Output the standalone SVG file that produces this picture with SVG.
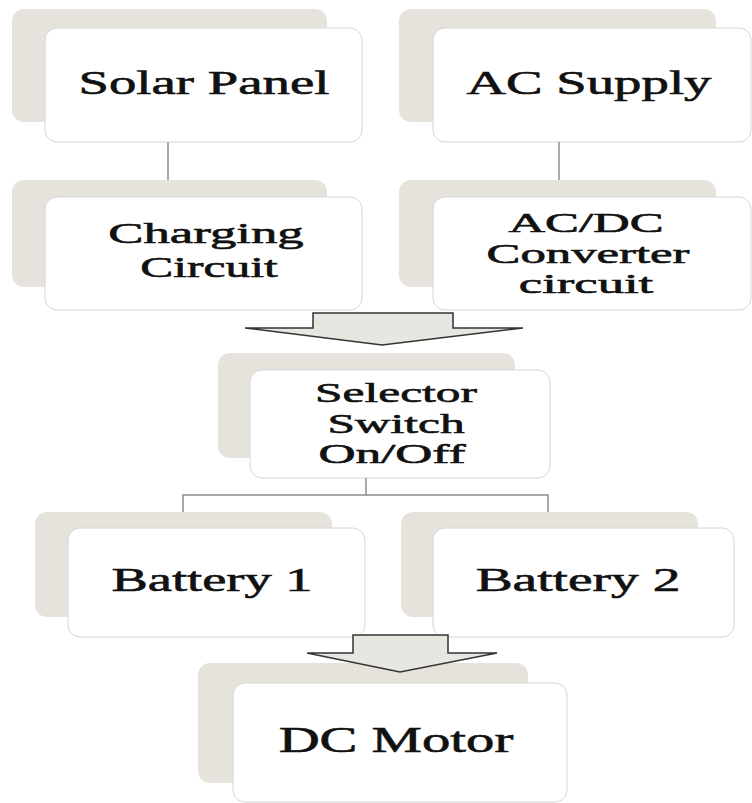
<svg xmlns="http://www.w3.org/2000/svg" width="752" height="803" viewBox="0 0 752 803">
<style>
.back{fill:#e6e3dc;stroke:none}
.front{fill:#ffffff;stroke:#d6d6d6;stroke-width:1}
.t{font-family:"Liberation Serif","Times New Roman",serif;fill:#111;stroke:#111;stroke-width:0.6;text-anchor:middle;font-size:33px}
.tc{font-family:"Liberation Serif","Times New Roman",serif;fill:#111;stroke:#111;stroke-width:0.6;text-anchor:middle;font-size:30px}
.tm{font-family:"Liberation Serif","Times New Roman",serif;fill:#111;stroke:#111;stroke-width:0.6;text-anchor:middle;font-size:27px}
.ln{stroke:#8c8c8c;stroke-width:1.5;fill:none}
.arr{fill:#e8e6e0;stroke:#333;stroke-width:1.5;stroke-linejoin:miter}
</style>
<rect width="752" height="803" fill="#ffffff"/>
<g id="solar-panel">
<rect class="back" x="12" y="9" width="315" height="113" rx="12"/>
<rect class="front" x="45" y="28" width="317" height="114" rx="12"/>
<g transform="translate(204,94) scale(1.66,1)"><text class="t" x="0" y="0">Solar Panel</text></g>
</g>
<g id="ac-supply">
<rect class="back" x="399" y="9" width="317" height="113" rx="12"/>
<rect class="front" x="433" y="28" width="318" height="114" rx="12"/>
<g transform="translate(589,94) scale(1.66,1)"><text class="t" x="0" y="0">AC Supply</text></g>
</g>
<g id="charging-circuit">
<rect class="back" x="12" y="180" width="315" height="107" rx="12"/>
<rect class="front" x="45" y="197" width="317" height="113" rx="12"/>
<g transform="translate(206,243) scale(1.76,1)"><text class="tc" x="0" y="0">Charging</text></g>
<g transform="translate(209,277) scale(1.65,1)"><text class="tc" x="0" y="0">Circuit</text></g>
</g>
<g id="acdc-converter">
<rect class="back" x="399" y="180" width="317" height="107" rx="12"/>
<rect class="front" x="433" y="197" width="318" height="113" rx="12"/>
<g transform="translate(586,232) scale(1.88,1)"><text class="tm" x="0" y="0">AC/DC</text></g>
<g transform="translate(588,263) scale(1.88,1)"><text class="tm" x="0" y="0">Converter</text></g>
<g transform="translate(586,293) scale(1.95,1)"><text class="tm" x="0" y="0">circuit</text></g>
</g>
<g id="selector-switch">
<rect class="back" x="218" y="353" width="297" height="105" rx="12"/>
<rect class="front" x="250" y="370" width="300" height="108" rx="12"/>
<g transform="translate(396,402) scale(1.83,1)"><text class="tm" x="0" y="0">Selector</text></g>
<g transform="translate(396,433) scale(1.83,1)"><text class="tm" x="0" y="0">Switch</text></g>
<g transform="translate(392,463) scale(1.9,1)"><text class="tm" x="0" y="0">On/Off</text></g>
</g>
<g id="battery-1">
<rect class="back" x="35" y="512" width="297" height="105" rx="12"/>
<rect class="front" x="68" y="528" width="297" height="109" rx="12"/>
<g transform="translate(212,591) scale(1.65,1)"><text class="t" x="0" y="0">Battery 1</text></g>
</g>
<g id="battery-2">
<rect class="back" x="401" y="512" width="297" height="105" rx="12"/>
<rect class="front" x="433" y="528" width="301" height="109" rx="12"/>
<g transform="translate(578,591) scale(1.68,1)"><text class="t" x="0" y="0">Battery 2</text></g>
</g>
<g id="dc-motor">
<rect class="back" x="198" y="663" width="330" height="120" rx="12"/>
<rect class="front" x="233" y="683" width="334" height="119" rx="12"/>
<g transform="translate(396,752) scale(1.62,1)"><text class="t" style="font-size:35px" x="0" y="0">DC Motor</text></g>
</g>
<g id="connectors">
<line class="ln" x1="168" y1="142" x2="168" y2="180"/>
<line class="ln" x1="559" y1="142" x2="559" y2="180"/>
<polyline class="ln" points="366,478 366,495"/>
<polyline class="ln" points="183,512 183,495 548,495 548,512"/>
<polygon class="arr" points="313,313 453,313 453,328 523,328 382,345 245,328 313,328"/>
<polygon class="arr" points="353,635 448,635 448,653 497,653 400,672 307,653 353,653"/>
</g>
</svg>
